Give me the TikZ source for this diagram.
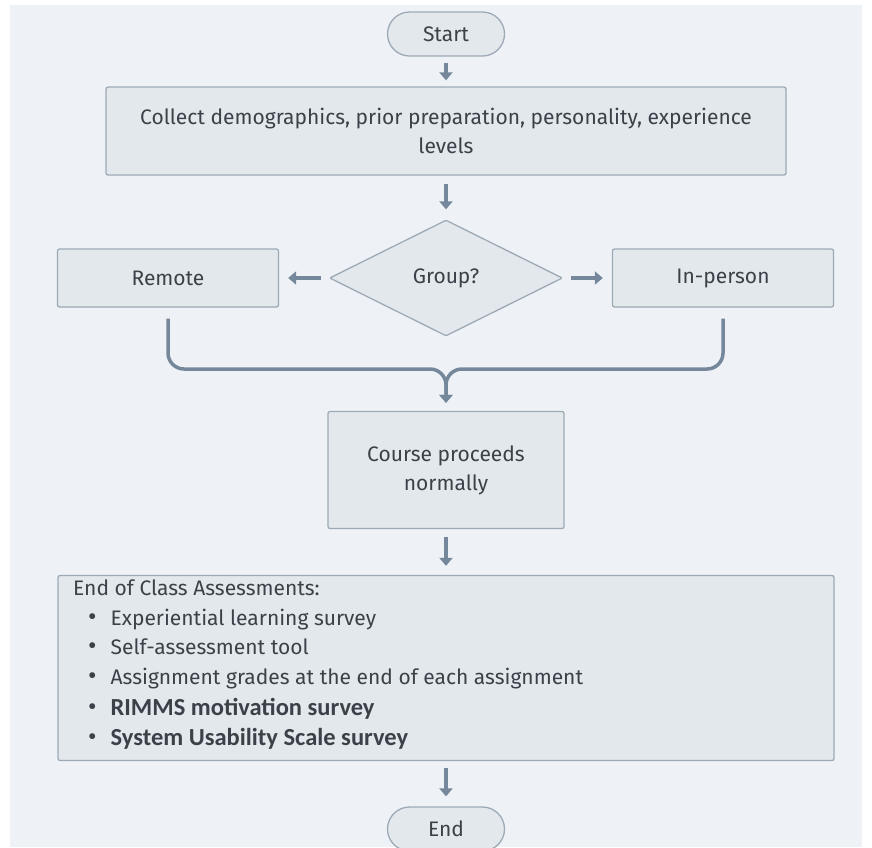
\documentclass[tikz,border=0pt]{standalone}
\usepackage{fontspec}
\setmainfont{Fira Sans}
\newfontfamily\calfont{Carlito}
\usetikzlibrary{arrows.meta,shapes.geometric}
\definecolor{bgcol}{HTML}{EEF2F6}
\definecolor{boxfill}{HTML}{E3E8ED}
\definecolor{boxline}{HTML}{9DAAB6}
\definecolor{flowcol}{HTML}{75879A}
\definecolor{txtcol}{HTML}{3B4148}
\newcommand{\itembullet}{\hspace{15pt}{\fontsize{26}{20}\selectfont•}\hspace{14pt}}
\begin{document}
\begin{tikzpicture}[x=1pt,y=-1pt,
    box/.style={draw=boxline,fill=boxfill,line width=1.3pt,rounded corners=2pt,text=txtcol,font=\fontsize{21}{29}\selectfont,inner sep=0pt,align=center},
    pill/.style={box,rounded corners=22pt,minimum width=117pt,minimum height=44pt},
    decision/.style={box,diamond,rounded corners=1pt,minimum width=233pt,minimum height=116pt},
    flow/.style={draw=flowcol,line width=3.5pt,-{Triangle[width=13pt,length=8pt]}}]
    \useasboundingbox (0,0) rectangle (872,847);
    \fill[white] (0,0) rectangle (872,847);
    \fill[bgcol] (10,5) rectangle (862,847);
    \begin{scope}
        \clip (10,5) rectangle (862,847);
        % nodes
        \node[pill] (start) at (446,34) {Start};
        \node[box,minimum width=680pt,minimum height=88pt] (collect) at (446,131) {Collect demographics, prior preparation, personality, experience\\levels};
        \node[decision] (group) at (446,278) {Group?};
        \node[box,minimum width=221pt,minimum height=58pt] (remote) at (168,278) {Remote};
        \node[box,minimum width=221pt,minimum height=58pt] (inperson) at (723,278) {In-person};
        \node[box,minimum width=236pt,minimum height=117pt] (course) at (446,470) {Course proceeds\\normally};
        \node[box,minimum width=776pt,minimum height=185pt] (assess) at (446,668) {};
        \node[anchor=north west,text=txtcol,align=left,inner sep=0pt,font=\fontsize{21}{29.5}\selectfont] (items) at (73,580) {End of Class Assessments:\\
            \itembullet Experiential learning survey\\
            \itembullet Self-assessment tool\\
            \itembullet Assignment grades at the end of each assignment\\[2pt]
            \itembullet{\calfont\bfseries\fontsize{24.5}{20}\selectfont RIMMS motivation survey}\\
            \itembullet{\calfont\bfseries\fontsize{24.5}{20}\selectfont System Usability Scale survey}};
        \node[pill] (end) at (446,829) {End};
        % connectors
        \draw[flow,shorten <=6pt,shorten >=6pt] (start) -- (collect);
        \draw[flow,shorten <=8pt,shorten >=10pt] (collect) -- (group);
        \draw[flow,shorten <=8pt,shorten >=9pt] (group) -- (remote);
        \draw[flow,shorten <=8pt,shorten >=9pt] (group) -- (inperson);
        \draw[flow,rounded corners=16pt,shorten <=11pt,shorten >=8pt] (remote.south) -- (168,369) -- (446,369) -- (course.north);
        \draw[flow,rounded corners=16pt,shorten <=11pt,shorten >=8pt] (inperson.south) -- (723,369) -- (446,369) -- (course.north);
        \draw[flow,shorten <=8pt,shorten >=9pt] (course) -- (assess);
        \draw[flow,shorten <=7pt,shorten >=10pt] (assess) -- (end);
    \end{scope}
\end{tikzpicture}
\end{document}
